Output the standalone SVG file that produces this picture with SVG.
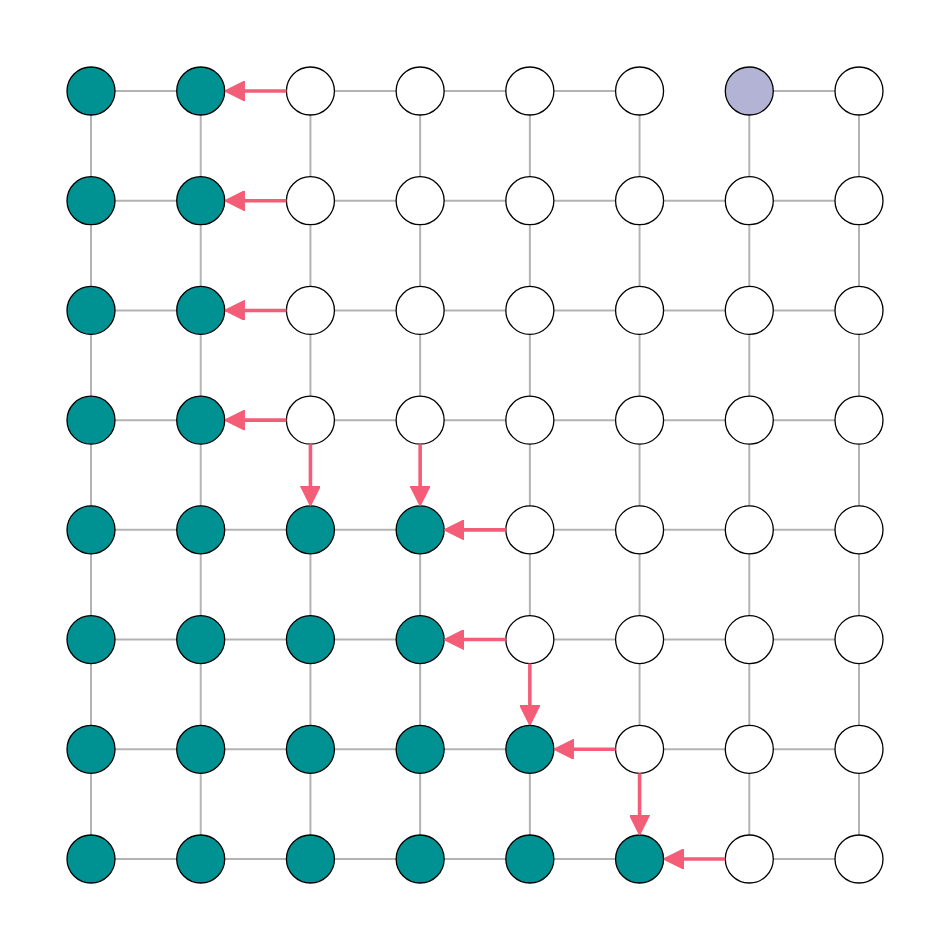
<svg xmlns="http://www.w3.org/2000/svg" width="950" height="950" viewBox="0 0 950 950">
<style>
.g line{stroke:#b3b3b3;stroke-width:2}
.n{stroke:#000;stroke-width:1.3;fill:#fff}
.t{fill:#009193}
.v{fill:#b3b3d6}
.a line{stroke:#f45d77;stroke-width:3.6}
</style>
<defs>
<marker id="ah" markerUnits="userSpaceOnUse" viewBox="0 0 20 20" markerWidth="20" markerHeight="20" refX="1" refY="10" orient="auto">
<path d="M0,0 L20,10 L0,20 z" fill="#f45d77" stroke="#f45d77" stroke-width="1.2" stroke-linejoin="round"/>
</marker>
</defs>
<rect width="950" height="950" fill="#fff"/>
<g id="grid" class="g">
<line x1="91" y1="91" x2="639.57" y2="91"/><line x1="749.29" y1="91" x2="859" y2="91"/>
<line x1="91" y1="200.71" x2="859" y2="200.71"/>
<line x1="91" y1="310.43" x2="859" y2="310.43"/>
<line x1="91" y1="420.14" x2="859" y2="420.14"/>
<line x1="91" y1="529.86" x2="859" y2="529.86"/>
<line x1="91" y1="639.57" x2="859" y2="639.57"/>
<line x1="91" y1="749.29" x2="859" y2="749.29"/>
<line x1="91" y1="859" x2="859" y2="859"/>
<line x1="91" y1="91" x2="91" y2="859"/>
<line x1="200.71" y1="91" x2="200.71" y2="859"/>
<line x1="310.43" y1="91" x2="310.43" y2="859"/>
<line x1="420.14" y1="91" x2="420.14" y2="859"/>
<line x1="529.86" y1="91" x2="529.86" y2="859"/>
<line x1="639.57" y1="91" x2="639.57" y2="859"/>
<line x1="749.29" y1="91" x2="749.29" y2="859"/>
<line x1="859" y1="91" x2="859" y2="859"/>
</g>
<g id="nodes">
<g id="r0"><circle class="n t" cx="91" cy="91" r="24"/><circle class="n t" cx="200.71" cy="91" r="24"/><circle class="n" cx="310.43" cy="91" r="24"/><circle class="n" cx="420.14" cy="91" r="24"/><circle class="n" cx="529.86" cy="91" r="24"/><circle class="n" cx="639.57" cy="91" r="24"/><circle class="n v" cx="749.29" cy="91" r="24"/><circle class="n" cx="859" cy="91" r="24"/></g>
<g id="r1"><circle class="n t" cx="91" cy="200.71" r="24"/><circle class="n t" cx="200.71" cy="200.71" r="24"/><circle class="n" cx="310.43" cy="200.71" r="24"/><circle class="n" cx="420.14" cy="200.71" r="24"/><circle class="n" cx="529.86" cy="200.71" r="24"/><circle class="n" cx="639.57" cy="200.71" r="24"/><circle class="n" cx="749.29" cy="200.71" r="24"/><circle class="n" cx="859" cy="200.71" r="24"/></g>
<g id="r2"><circle class="n t" cx="91" cy="310.43" r="24"/><circle class="n t" cx="200.71" cy="310.43" r="24"/><circle class="n" cx="310.43" cy="310.43" r="24"/><circle class="n" cx="420.14" cy="310.43" r="24"/><circle class="n" cx="529.86" cy="310.43" r="24"/><circle class="n" cx="639.57" cy="310.43" r="24"/><circle class="n" cx="749.29" cy="310.43" r="24"/><circle class="n" cx="859" cy="310.43" r="24"/></g>
<g id="r3"><circle class="n t" cx="91" cy="420.14" r="24"/><circle class="n t" cx="200.71" cy="420.14" r="24"/><circle class="n" cx="310.43" cy="420.14" r="24"/><circle class="n" cx="420.14" cy="420.14" r="24"/><circle class="n" cx="529.86" cy="420.14" r="24"/><circle class="n" cx="639.57" cy="420.14" r="24"/><circle class="n" cx="749.29" cy="420.14" r="24"/><circle class="n" cx="859" cy="420.14" r="24"/></g>
<g id="r4"><circle class="n t" cx="91" cy="529.86" r="24"/><circle class="n t" cx="200.71" cy="529.86" r="24"/><circle class="n t" cx="310.43" cy="529.86" r="24"/><circle class="n t" cx="420.14" cy="529.86" r="24"/><circle class="n" cx="529.86" cy="529.86" r="24"/><circle class="n" cx="639.57" cy="529.86" r="24"/><circle class="n" cx="749.29" cy="529.86" r="24"/><circle class="n" cx="859" cy="529.86" r="24"/></g>
<g id="r5"><circle class="n t" cx="91" cy="639.57" r="24"/><circle class="n t" cx="200.71" cy="639.57" r="24"/><circle class="n t" cx="310.43" cy="639.57" r="24"/><circle class="n t" cx="420.14" cy="639.57" r="24"/><circle class="n" cx="529.86" cy="639.57" r="24"/><circle class="n" cx="639.57" cy="639.57" r="24"/><circle class="n" cx="749.29" cy="639.57" r="24"/><circle class="n" cx="859" cy="639.57" r="24"/></g>
<g id="r6"><circle class="n t" cx="91" cy="749.29" r="24"/><circle class="n t" cx="200.71" cy="749.29" r="24"/><circle class="n t" cx="310.43" cy="749.29" r="24"/><circle class="n t" cx="420.14" cy="749.29" r="24"/><circle class="n t" cx="529.86" cy="749.29" r="24"/><circle class="n" cx="639.57" cy="749.29" r="24"/><circle class="n" cx="749.29" cy="749.29" r="24"/><circle class="n" cx="859" cy="749.29" r="24"/></g>
<g id="r7"><circle class="n t" cx="91" cy="859" r="24"/><circle class="n t" cx="200.71" cy="859" r="24"/><circle class="n t" cx="310.43" cy="859" r="24"/><circle class="n t" cx="420.14" cy="859" r="24"/><circle class="n t" cx="529.86" cy="859" r="24"/><circle class="n t" cx="639.57" cy="859" r="24"/><circle class="n" cx="749.29" cy="859" r="24"/><circle class="n" cx="859" cy="859" r="24"/></g>
</g>
<g id="connectors" class="a" marker-end="url(#ah)">
<line x1="286.43" y1="91" x2="243.71" y2="91" marker-end="url(#ah)"/>
<line x1="286.43" y1="200.71" x2="243.71" y2="200.71" marker-end="url(#ah)"/>
<line x1="286.43" y1="310.43" x2="243.71" y2="310.43" marker-end="url(#ah)"/>
<line x1="286.43" y1="420.14" x2="243.71" y2="420.14" marker-end="url(#ah)"/>
<line x1="310.43" y1="444.14" x2="310.43" y2="486.86" marker-end="url(#ah)"/>
<line x1="420.14" y1="444.14" x2="420.14" y2="486.86" marker-end="url(#ah)"/>
<line x1="505.86" y1="529.86" x2="463.14" y2="529.86" marker-end="url(#ah)"/>
<line x1="505.86" y1="639.57" x2="463.14" y2="639.57" marker-end="url(#ah)"/>
<line x1="529.86" y1="663.57" x2="529.86" y2="706.29" marker-end="url(#ah)"/>
<line x1="615.57" y1="749.29" x2="572.86" y2="749.29" marker-end="url(#ah)"/>
<line x1="639.57" y1="773.29" x2="639.57" y2="816" marker-end="url(#ah)"/>
<line x1="725.29" y1="859" x2="682.57" y2="859" marker-end="url(#ah)"/>
</g>
</svg>
